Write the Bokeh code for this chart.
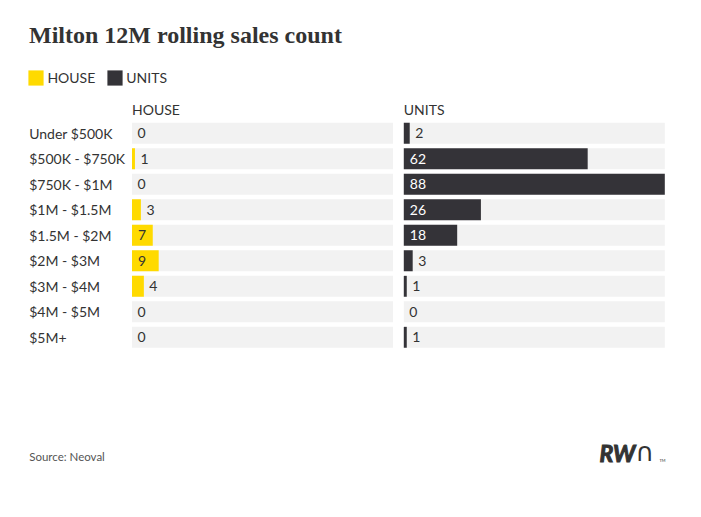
from bokeh.plotting import figure
from bokeh.models import Range1d, Label, Legend, LegendItem, ColumnDataSource
from bokeh.core.properties import value
from bokeh.embed import file_html
from bokeh.resources import INLINE

# ---- data ----
categories = ["Under $500K", "$500K - $750K", "$750K - $1M", "$1M - $1.5M",
              "$1.5M - $2M", "$2M - $3M", "$3M - $4M", "$4M - $5M", "$5M+"]
house = [0, 1, 0, 3, 7, 9, 4, 0, 0]
units = [2, 62, 88, 26, 18, 3, 1, 0, 1]
series_names = ["HOUSE", "UNITS"]
title_text = "Milton 12M rolling sales count"
source_text = "Source: Neoval"

# ---- style / layout ----
YELLOW = "#FFDA00"
DARK = "#343338"
BG = "#F2F2F2"
TXT = "#333333"
FONT = "Lato"

W, H = 701, 517
PANEL_W = 261.0
HOUSE_X0 = 131.5
UNITS_X0 = 403.3
ROW0_Y = 132.8
ROW_STEP = 25.5
BAR_H = 0.82
INSIDE_MIN = 5

vmax = max(max(house), max(units))
scale = PANEL_W / vmax
rows = list(range(len(categories)))

# main ranges: page pixels, y measured from the top
p = figure(width=W, height=H, output_backend="svg", toolbar_location=None,
           x_range=Range1d(0, W), y_range=Range1d(H, 0),
           x_axis_location=None, y_axis_location=None,
           min_border=0)
p.extra_x_ranges = {
    "house": Range1d(-HOUSE_X0 / scale, (W - HOUSE_X0) / scale),
    "units": Range1d(-UNITS_X0 / scale, (W - UNITS_X0) / scale),
}
p.extra_y_ranges = {
    "rows": Range1d((H - ROW0_Y) / ROW_STEP, -ROW0_Y / ROW_STEP),
}
p.grid.visible = False
p.outline_line_color = None
p.background_fill_color = "white"
p.border_fill_color = "white"

renderers = []
for name, vals, color, inside_color in [("house", house, YELLOW, TXT),
                                         ("units", units, DARK, "white")]:
    p.hbar(y=rows, left=0, right=[vmax] * len(categories), height=BAR_H,
           fill_color=BG, line_color=None, x_range_name=name, y_range_name="rows")
    r = p.hbar(y=rows, left=0, right=vals, height=BAR_H,
               fill_color=color, line_color=None, x_range_name=name, y_range_name="rows")
    renderers.append(r)
    inside = [v >= INSIDE_MIN for v in vals]
    src = ColumnDataSource(dict(
        y=rows,
        x=[0 if i else v for v, i in zip(vals, inside)],
        off=[6 if i else 5.5 for i in inside],
        t=[str(v) for v in vals],
        c=[inside_color if i else TXT for i in inside],
    ))
    p.text(x="x", y="y", text="t", x_offset="off", text_color="c", source=src,
           x_range_name=name, y_range_name="rows", text_font=value(FONT),
           text_font_size="14px", text_baseline="middle", text_align="left")

# category labels
p.text(x=[28.7] * len(categories), y=rows, text=categories, y_range_name="rows",
       text_font=value(FONT), text_font_size="14px", text_color=TXT,
       text_baseline="middle", text_align="left")

# panel headers
for name, label in zip(["house", "units"], series_names):
    p.add_layout(Label(x=0, x_range_name=name, y=108.6,
                       text=label, text_font=FONT, text_font_size="14px", text_color=TXT,
                       text_baseline="middle"))

# title
p.add_layout(Label(x=28.5, y=34, text=title_text,
                   text_font="Liberation Serif", text_font_style="bold", text_font_size="24px",
                   text_color=TXT, text_baseline="middle"))

# legend (bar legend glyphs are drawn at 80% of the glyph box)
legend = Legend(items=[LegendItem(label=n, renderers=[r]) for n, r in zip(series_names, renderers)],
                orientation="horizontal", location=(26.4, H - 87.2),
                glyph_width=19, glyph_height=19, label_height=19, label_standoff=2,
                spacing=10, padding=0, margin=0, border_line_color=None,
                background_fill_alpha=0, label_text_font=FONT, label_text_font_size="14px",
                label_text_color=TXT)
p.add_layout(legend)

# source
p.add_layout(Label(x=28.7, y=456.3, text=source_text,
                   text_font=FONT, text_font_size="11.5px", text_color="#555555",
                   text_baseline="middle"))

# logo
p.add_layout(Label(x=599, y=452.7, text="RW",
                   text_font=FONT, text_font_style="bold italic", text_font_size="23px",
                   text_color=TXT, text_outline_color=TXT, text_baseline="middle"))
p.add_layout(Label(x=635, y=451.5, text="∩",
                   text_font="DejaVu Sans", text_font_size="26px",
                   text_color=TXT, text_baseline="middle"))
p.add_layout(Label(x=659, y=459.5, text="TM",
                   text_font=FONT, text_font_size="4px",
                   text_color=TXT, text_baseline="middle"))

open("out.html", "w").write(file_html(p, INLINE))
